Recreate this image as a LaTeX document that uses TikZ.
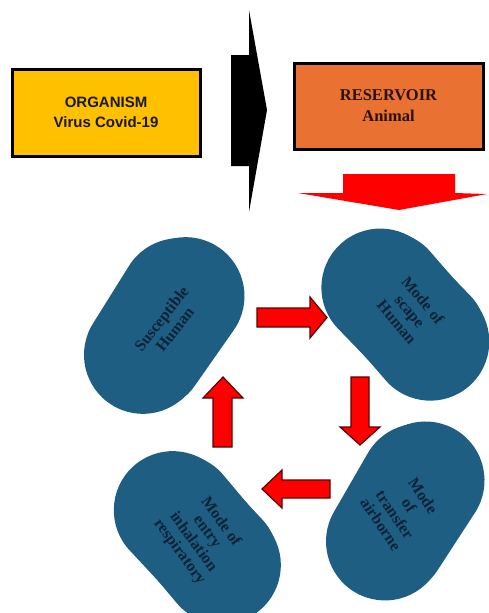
\documentclass[tikz,border=0pt]{standalone}
\usepackage{fontspec}
\setmainfont{Liberation Serif}
\newfontfamily\arialf{Liberation Sans}
\usetikzlibrary{shapes.misc}
\definecolor{blobc}{RGB}{30,94,130}
\definecolor{blobtxt}{RGB}{12,34,54}
\definecolor{orgc}{RGB}{255,192,0}
\definecolor{resc}{RGB}{233,113,50}
\definecolor{arrowedge}{RGB}{90,0,0}
\begin{document}
\begin{tikzpicture}[x=1pt,y=-1pt,
  topbox/.style={draw=black, line width=3pt, inner sep=0pt, align=center},
  blob/.style={rounded rectangle, fill=blobc, minimum width=186pt, minimum height=118pt, inner sep=0pt},
  btext/.style={text=blobtxt, align=center, inner sep=0pt, font=\bfseries\fontsize{16}{17}\selectfont},
  redarrow/.style={fill=red, draw=arrowedge, line width=1.2pt, line join=miter}]
\useasboundingbox (0,0) rectangle (488,613);

% top boxes
\node[topbox, fill=orgc, minimum width=188pt, minimum height=87pt,
      font=\arialf\bfseries\fontsize{15}{20}\selectfont, text=black!90] (org) at (106,112.5)
      {ORGANISM\\Virus Covid-19};
\node[topbox, fill=resc, minimum width=189pt, minimum height=86pt,
      font=\bfseries\fontsize{16.5}{21}\selectfont, text={rgb,255:red,40;green,18;blue,6}] (res) at (388.5,106)
      {RESERVOIR\\Animal};

% black arrow
\fill[black] (231,55) -- (249,55) -- (249,10) -- (267,110) -- (249,212) -- (249,166) -- (231,166) -- cycle;

% big red arrow
\fill[red] (343,174) -- (455,174) -- (455,193) -- (487,194) -- (399,210) -- (298,193) -- (343,193) -- cycle;

% blobs (a second, slightly shifted copy gives the doubled edge)
\node[blob, rotate=58] (sus1) at (161,326) {};
\node[blob, rotate=55] (sus) at (166,324) {};
\node[blob, rotate=-46] (sca1) at (404,312) {};
\node[blob, rotate=-49] (sca) at (408,316) {};
\node[blob, rotate=-47] (ent1) at (196,535) {};
\node[blob, rotate=-50] (ent) at (200,539) {};
\node[blob, rotate=60] (tra1) at (402,512) {};
\node[blob, rotate=57] (tra) at (407,509) {};

\node[btext, rotate=52] (sust) at (168,324) {Susceptible\\Human};
\node[btext, rotate=-50] (scat) at (410,311) {Mode of\\scape\\Human};
\node[btext, rotate=-54] (entt) at (200,537) {Mode of\\entry\\inhalation\\respiratory};
\node[btext, rotate=-56] (trat) at (402,510) {Mode\\of\\transfer\\airborne};

% red block arrows
\draw[redarrow] (257,308) -- (310,308) -- (310,297) -- (327,317.5) -- (310,338) -- (310,327) -- (257,327) -- cycle;
\draw[redarrow] (351,377) -- (369,377) -- (369,427) -- (380,427) -- (360,445) -- (340,427) -- (351,427) -- cycle;
\draw[redarrow] (330,480) -- (282,480) -- (282,470) -- (262,489) -- (282,508) -- (282,498) -- (330,498) -- cycle;
\draw[redarrow] (213,447) -- (213,398) -- (203,398) -- (223,377) -- (243,398) -- (232,398) -- (232,447) -- cycle;
\end{tikzpicture}
\end{document}
